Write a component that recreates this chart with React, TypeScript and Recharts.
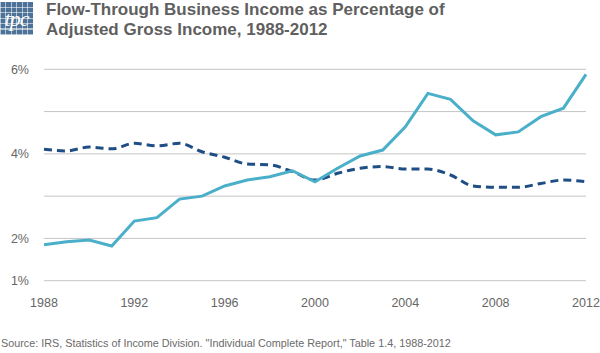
import { LineChart, Line, XAxis, YAxis, CartesianGrid } from 'recharts';

const years = [1988, 1989, 1990, 1991, 1992, 1993, 1994, 1995, 1996, 1997, 1998, 1999, 2000, 2001, 2002, 2003, 2004, 2005, 2006, 2007, 2008, 2009, 2010, 2011, 2012];
const flowThrough = [1.85, 1.92, 1.96, 1.82, 2.41, 2.49, 2.93, 3.0, 3.24, 3.38, 3.46, 3.6, 3.34, 3.66, 3.95, 4.09, 4.64, 5.43, 5.29, 4.78, 4.45, 4.52, 4.88, 5.08, 5.88];
const dashedSeries = [4.11, 4.07, 4.16, 4.12, 4.25, 4.19, 4.25, 4.05, 3.92, 3.76, 3.74, 3.58, 3.38, 3.54, 3.66, 3.7, 3.64, 3.64, 3.5, 3.24, 3.21, 3.21, 3.3, 3.38, 3.34];
const xTicks = [1988, 1992, 1996, 2000, 2004, 2008, 2012];
const yTicks = [1, 2, 3, 4, 5, 6];
const yLabels: Record<number, string> = { 1: '1%', 2: '2%', 4: '4%', 6: '6%' };

const data = years.map((y, i) => ({ year: y, flow: flowThrough[i], other: dashedSeries[i] }));

const font = '"Liberation Sans", Arial, sans-serif';

function Logo() {
  return (
    <div
      style={{
        position: 'absolute', left: 0, top: 2, width: 33, height: 33,
        background: '#4d7298',
        backgroundImage:
          'repeating-linear-gradient(0deg, rgba(255,255,255,0.55) 0 1px, transparent 1px 5.5px), repeating-linear-gradient(90deg, rgba(255,255,255,0.55) 0 1px, transparent 1px 5.5px)',
        color: '#fff', fontFamily: 'serif', fontStyle: 'italic', fontSize: 22,
        lineHeight: '33px', textAlign: 'center', letterSpacing: -1,
      }}
    >
      tpc
    </div>
  );
}

export default function App() {
  return (
    <div style={{ position: 'absolute', left: 0, top: 0, width: 600, height: 353, background: '#fff', fontFamily: font, overflow: 'hidden' }}>
      <Logo />
      <div style={{ position: 'absolute', left: 46, top: 0, fontSize: 17, fontWeight: 'bold', color: '#5f5f5f', lineHeight: '20px' }}>
        Flow-Through Business Income as Percentage of<br />Adjusted Gross Income, 1988-2012
      </div>
      <div style={{ position: 'absolute', top: 0, left: 0 }}>
        <LineChart width={600} height={320} data={data} margin={{ top: 69.3, right: 14, left: 0, bottom: 9.3 }}>
          <CartesianGrid vertical={false} stroke="#c4c4c4" />
          <XAxis
            dataKey="year" type="number" domain={[1988, 2012]} ticks={xTicks}
            axisLine={false} tickLine={false} tickMargin={11} height={30}
            tick={{ fontSize: 12.5, fill: '#666', fontFamily: font }}
          />
          <YAxis
            type="number" domain={[1, 6]} ticks={yTicks} width={44}
            axisLine={false} tickLine={false} tickMargin={9}
            tickFormatter={(v: number) => yLabels[v] ?? ''}
            tick={{ fontSize: 12.5, fill: '#666', fontFamily: font }}
          />
          <Line type="monotone" dataKey="other" stroke="#1f4e85" strokeWidth={3} strokeDasharray="8 5" dot={false} isAnimationActive={false} />
          <Line type="linear" dataKey="flow" stroke="#4aafc9" strokeWidth={3} dot={false} isAnimationActive={false} />
        </LineChart>
      </div>
      <div style={{ position: 'absolute', left: 1, top: 337, fontSize: 10.8, color: '#6a6a6a', whiteSpace: 'nowrap' }}>
        Source: IRS, Statistics of Income Division. "Individual Complete Report," Table 1.4, 1988-2012
      </div>
    </div>
  );
}
